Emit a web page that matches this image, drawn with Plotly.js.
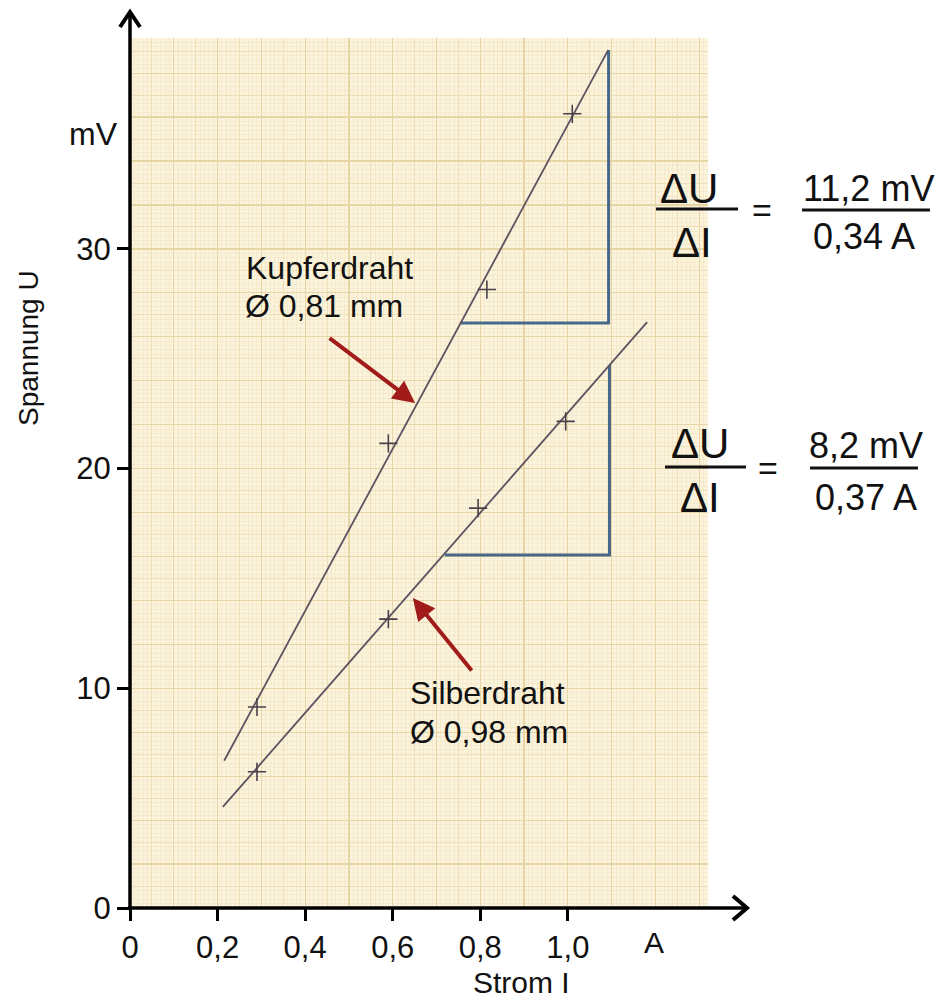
<!DOCTYPE html>
<html><head><meta charset="utf-8">
<script src="https://cdn.plot.ly/plotly-3.0.1.min.js"></script>
<style>html,body{margin:0;padding:0;background:#fff;}</style>
</head><body><div id="chart" style="width:946px;height:999px;"></div>
<script>
// ---- data ----
const kupferI = [0.29, 0.59, 0.815, 1.01];
const kupferU = [9.15, 21.15, 28.15, 36.15];
const silberI = [0.29, 0.59, 0.795, 0.995];
const silberU = [6.2, 13.15, 18.2, 22.15];
const kupferFitI = [0.215, 1.092];
const kupferFitU = [6.7, 39.05];
const silberFitI = [0.212, 1.181];
const silberFitU = [4.6, 26.67];
const kupferTriI = [0.754, 1.093, 1.093];
const kupferTriU = [26.63, 26.63, 39.05];
const silberTriI = [0.719, 1.095, 1.095];
const silberTriU = [16.07, 16.07, 24.72];
const kupferArrowHead = [0.651, 22.99];
const silberArrowHead = [0.646, 14.11];
const xTickVals = [0, 0.2, 0.4, 0.6, 0.8, 1.0];
const xTickText = ['0', '0,2', '0,4', '0,6', '0,8', '1,0'];
const yTickVals = [0, 10, 20, 30];
const yTickText = ['0', '10', '20', '30'];
const kupferLabel = ['Kupferdraht', 'Ø 0,81 mm'];
const silberLabel = ['Silberdraht', 'Ø 0,98 mm'];
const formula1 = ['ΔU', 'ΔI', '=', '11,2 mV', '0,34 A'];
const formula2 = ['ΔU', 'ΔI', '=', '8,2 mV', '0,37 A'];

// ---- layout geometry ----
const W = 946, H = 999;
const L = 130, T = 38, PW = 578, PH = 870;
const X_RANGE = [0, 1.32], Y_RANGE = [0, 39.6];
const px = p => (p - L) / PW;
const py = q => (T + PH - q) / PH;
const FONT = 'Liberation Sans, Arial, sans-serif';

const lineCol = '#5e5262';
const triCol = '#46698a';
const redCol = '#a11b1b';

const traces = [
  {x: kupferTriI, y: kupferTriU, mode: 'lines', line: {color: triCol, width: 3}, hoverinfo: 'skip'},
  {x: silberTriI, y: silberTriU, mode: 'lines', line: {color: triCol, width: 3}, hoverinfo: 'skip'},
  {x: kupferFitI, y: kupferFitU, mode: 'lines', line: {color: lineCol, width: 1.8}},
  {x: silberFitI, y: silberFitU, mode: 'lines', line: {color: lineCol, width: 1.8}},
  {x: kupferI, y: kupferU, mode: 'markers', marker: {symbol: 'cross-thin', size: 13, line: {color: '#4a4048', width: 1.6}}},
  {x: silberI, y: silberU, mode: 'markers', marker: {symbol: 'cross-thin', size: 13, line: {color: '#4a4048', width: 1.6}}},
  {x: [], y: [], xaxis: 'x2', yaxis: 'y2'},
  {x: [], y: [], xaxis: 'x3', yaxis: 'y3'}
];
traces.forEach(t => { t.showlegend = false; t.type = 'scatter'; });

const gridBase = {showticklabels: false, ticks: '', zeroline: false, showline: false, fixedrange: true};
const fineCol = '#f5ebcc', medCol = '#efdfb6', majCol = '#e8d5a6';

function ann(text, x, y, size, xanchor, extra) {
  return Object.assign({
    text: text, xref: 'paper', yref: 'paper', x: px(x), y: py(y),
    xanchor: xanchor || 'center', yanchor: 'middle', showarrow: false,
    font: {family: FONT, size: size, color: '#111'}
  }, extra || {});
}

const annotations = [
  ann(kupferLabel[0], 244, 268, 32, 'left'),
  ann(kupferLabel[1], 243, 306, 32, 'left'),
  ann(silberLabel[0], 408, 693, 32, 'left'),
  ann(silberLabel[1], 408, 732, 32, 'left'),
  ann('mV', 93, 134, 32),
  ann('A', 654, 943, 30),
  ann('Strom I', 521, 982, 30),
  ann('Spannung U', 28, 348, 28, 'center', {textangle: -90}),
  ann(formula1[0], 689, 188, 42),
  ann(formula1[1], 692, 242, 42),
  ann(formula1[2], 762, 210, 34),
  ann(formula1[3], 868, 188, 36),
  ann(formula1[4], 864, 236, 36),
  ann(formula2[0], 700, 443, 42),
  ann(formula2[1], 700, 497, 42),
  ann(formula2[2], 768, 468, 34),
  ann(formula2[3], 866, 445, 36),
  ann(formula2[4], 866, 497, 36),
  {x: kupferArrowHead[0], y: kupferArrowHead[1], xref: 'x', yref: 'y', text: '', showarrow: true,
   ax: -87, ay: -66, arrowhead: 2, arrowsize: 1.1, arrowwidth: 4, arrowcolor: redCol, standoff: 0},
  {x: silberArrowHead[0], y: silberArrowHead[1], xref: 'x', yref: 'y', text: '', showarrow: true,
   ax: 60, ay: 74, arrowhead: 2, arrowsize: 1.1, arrowwidth: 4, arrowcolor: redCol, standoff: 0}
];

function seg(x0, y0, x1, y1, w, c) {
  return {type: 'line', xref: 'paper', yref: 'paper', x0: px(x0), y0: py(y0), x1: px(x1), y1: py(y1),
          line: {color: c || '#000', width: w}, layer: 'above'};
}
function chevron(pts, w) {
  const d = 'M' + pts.map(p => px(p[0]) + ',' + py(p[1])).join('L');
  return {type: 'path', xref: 'paper', yref: 'paper', path: d, line: {color: '#000', width: w}, layer: 'above'};
}

const shapes = [
  seg(130, 909, 130, 12, 3.5),
  seg(128, 908, 747, 908, 3.5),
  chevron([[120, 27], [130, 12], [140, 27]], 4),
  chevron([[733, 896], [747, 908], [733, 920]], 4),
  seg(656, 209, 738, 209, 3, '#111'),
  seg(802, 210, 930, 210, 3, '#111'),
  seg(665, 467, 746, 467, 3, '#111'),
  seg(810, 468, 918, 468, 3, '#111')
];

const layout = {
  width: W, height: H, autosize: false,
  margin: {l: L, r: W - L - PW, t: T, b: H - T - PH, pad: 0},
  paper_bgcolor: '#ffffff', plot_bgcolor: '#fbf3dc',
  showlegend: false,
  xaxis: {range: X_RANGE, tickvals: xTickVals, ticktext: xTickText, ticks: 'outside', ticklen: 12,
          tickwidth: 3, tickcolor: '#000', showgrid: false, zeroline: false, showline: false,
          tickfont: {family: FONT, size: 31, color: '#111'}, fixedrange: true},
  yaxis: {range: Y_RANGE, tickvals: yTickVals, ticktext: yTickText, ticks: 'outside', ticklen: 12,
          tickwidth: 3, tickcolor: '#000', showgrid: false, zeroline: false, showline: false,
          tickfont: {family: FONT, size: 31, color: '#111'}, fixedrange: true},
  xaxis2: Object.assign({}, gridBase, {overlaying: 'x', anchor: 'y2', range: X_RANGE, showgrid: true,
          tick0: 0, dtick: 0.05, gridcolor: medCol, gridwidth: 1,
          minor: {dtick: 0.01, tick0: 0, showgrid: true, gridcolor: fineCol, gridwidth: 1, ticks: ''}}),
  yaxis2: Object.assign({}, gridBase, {overlaying: 'y', anchor: 'x2', range: Y_RANGE, showgrid: true,
          tick0: 0, dtick: 1, gridcolor: medCol, gridwidth: 1,
          minor: {dtick: 0.2, tick0: 0, showgrid: true, gridcolor: fineCol, gridwidth: 1, ticks: ''}}),
  xaxis3: Object.assign({}, gridBase, {overlaying: 'x', anchor: 'y3', range: X_RANGE, showgrid: true,
          tick0: 0, dtick: 0.1, gridcolor: majCol, gridwidth: 1.2}),
  yaxis3: Object.assign({}, gridBase, {overlaying: 'y', anchor: 'x3', range: Y_RANGE, showgrid: true,
          tick0: 0, dtick: 2, gridcolor: majCol, gridwidth: 1.2}),
  annotations: annotations,
  shapes: shapes,
  hovermode: false
};

Plotly.newPlot('chart', traces, layout, {displayModeBar: false, staticPlot: true});
</script></body></html>
